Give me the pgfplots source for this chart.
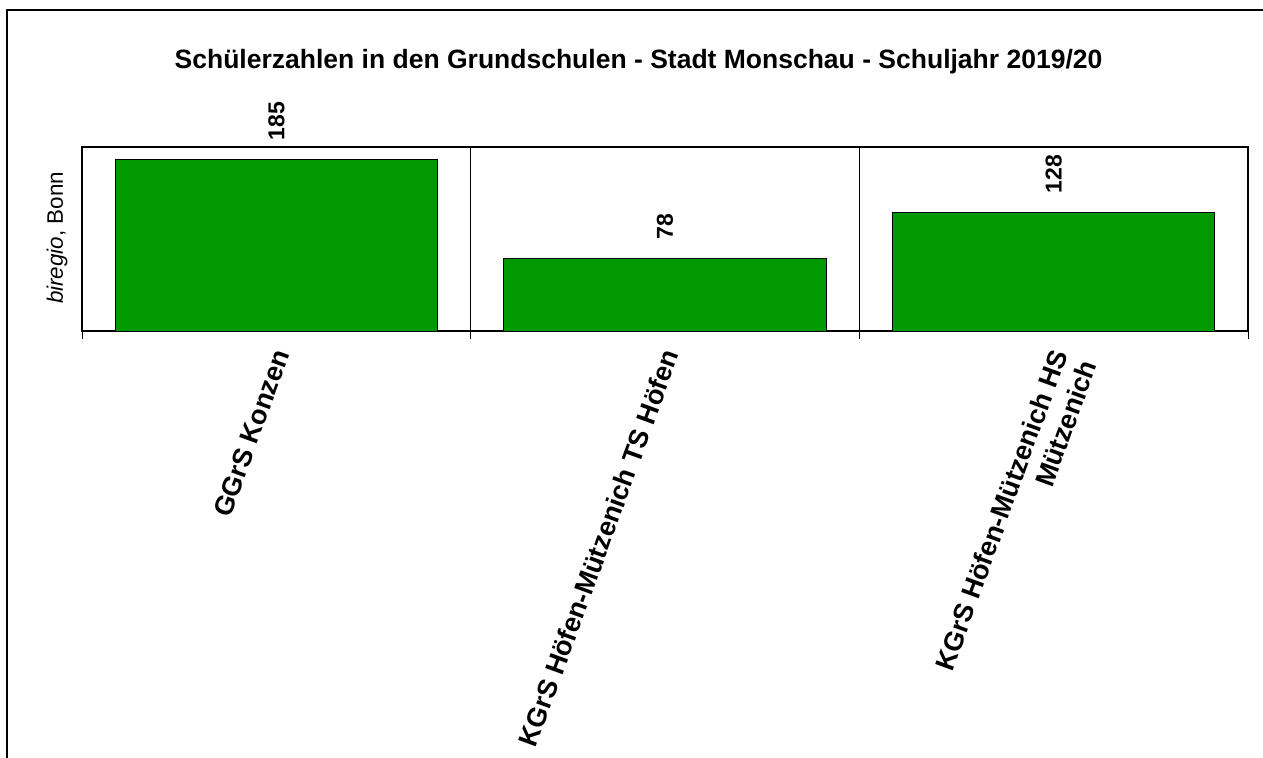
\documentclass[border=0pt]{standalone}
\usepackage{pgfplots}
\pgfplotsset{compat=1.18}
\usepackage{fontspec}
\setmainfont{Liberation Sans}
\definecolor{bargreen}{RGB}{0,153,0}
\begin{document}
\begin{tikzpicture}
\useasboundingbox (0pt,0pt) rectangle (631.5pt,-379pt);
\draw[line width=1pt] (3.5pt,-385pt) -- (3.5pt,-5pt) -- (640pt,-5pt);
\node[anchor=base, font=\fontsize{13.25}{15}\selectfont\bfseries] at (319.25pt,-34.5pt)
  {Schülerzahlen in den Grundschulen - Stadt Monschau - Schuljahr 2019/20};
\node[rotate=90, font=\fontsize{11.2}{13}\selectfont] at (28.5pt,-119pt) {\textit{biregio}, Bonn};
\begin{axis}[
  at={(41pt,-165.5pt)}, anchor=south west,
  scale only axis, width=583pt, height=92pt,
  xmin=-0.5, xmax=2.5, ymin=0, ymax=199,
  enlargelimits=false,
  /pgf/number format/assume math mode=true,
  axis line style={line width=0.8pt, black},
  ytick=\empty,
  xtick={0,1,2},
  xticklabels={{GGrS Konzen},{KGrS Höfen-Mützenich TS Höfen},{KGrS Höfen-Mützenich HS\\Mützenich}},
  major tick length=0pt,
  xtick pos=bottom,
  xticklabel style={xshift=-2pt, yshift=-8pt, rotate=70, anchor=north east, align=right, inner sep=0pt,
    font=\fontsize{13.5}{15.5}\selectfont\bfseries},
  extra x ticks={-0.5,0.5,1.5,2.5},
  extra x tick labels={},
  extra x tick style={major tick length=4pt, tick align=outside, xmajorgrids=true,
    major grid style={black, line width=0.5pt}, tick style={black, line width=0.5pt}},
  ybar, bar width=0.83,
  nodes near coords,
  every node near coord/.append style={rotate=90, anchor=west, inner xsep=9.5pt, inner ysep=0pt,
    font=\fontsize{11.5}{13}\selectfont\bfseries, black},
]
\addplot[fill=bargreen, draw=black, line width=0.5pt] coordinates {(0,185) (1,78) (2,128)};
\end{axis}
\end{tikzpicture}
\end{document}
